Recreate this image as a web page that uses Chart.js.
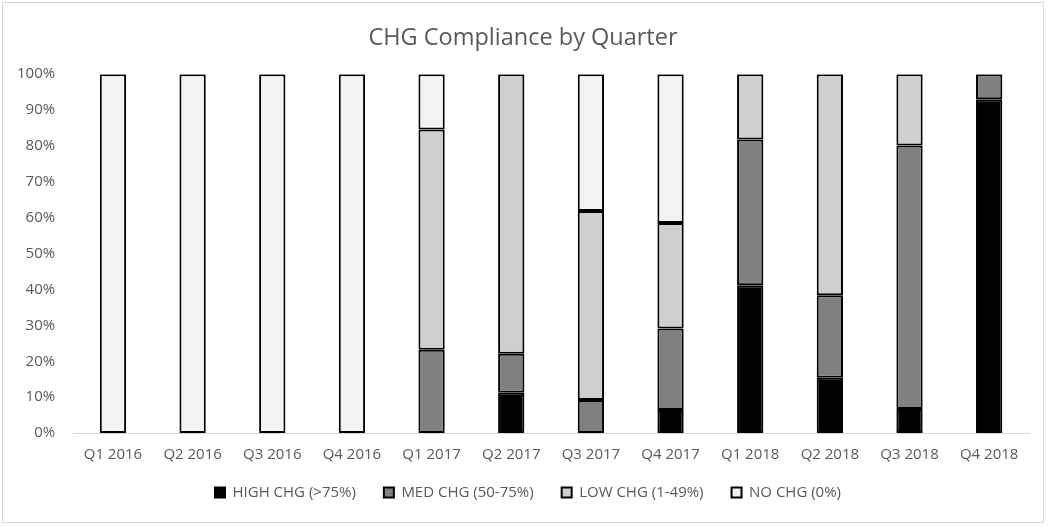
<!DOCTYPE html>
<html>
<head>
<meta charset="utf-8">
<script src="https://cdn.jsdelivr.net/npm/chart.js@4/dist/chart.umd.min.js"></script>
<style>
  html, body { margin: 0; padding: 0; background: #fff; }
  #wrap {
    position: absolute; left: 2px; top: 2px;
    width: 1042px; height: 521px;
    border: 1px solid #d9d9d9; box-sizing: border-box;
  }
</style>
</head>
<body>
<div id="wrap"><canvas id="chgChart"></canvas></div>
<script>
const quarters = ["Q1 2016", "Q2 2016", "Q3 2016", "Q4 2016", "Q1 2017", "Q2 2017",
                  "Q3 2017", "Q4 2017", "Q1 2018", "Q2 2018", "Q3 2018", "Q4 2018"];
// percentage of each quarter, bottom to top
const highChg = [0, 0, 0, 0, 0, 11.2, 0, 6.4, 41.2, 15.4, 6.7, 93];
const medChg  = [0, 0, 0, 0, 23.2, 10.9, 9.2, 22.7, 40.6, 23.0, 73.4, 7];
const lowChg  = [0, 0, 0, 0, 61.4, 77.9, 52.7, 29.4, 18.2, 61.6, 19.9, 0];
const noChg   = [100, 100, 100, 100, 15.4, 0, 38.1, 41.5, 0, 0, 0, 0];
const yTicks  = [0, 10, 20, 30, 40, 50, 60, 70, 80, 90, 100];

// empty segments are skipped so they don't draw a stray border
function seg(arr) {
    return arr.map(v => v === 0 ? null : v);
}

function makeSet(label, data, color) {
    return {
        label: label,
        data: seg(data),
        backgroundColor: color,
        borderColor: '#000',
        borderWidth: 2,
        borderSkipped: false,
        barPercentage: 0.33,
        categoryPercentage: 1.0
    };
}

// move a layout box's drawing without touching the layout
function shiftBox(box, dx, dy) {
    const draw = box.draw;
    box.draw = function (area) {
        const c = this.ctx;
        c.save();
        c.translate(dx, dy);
        draw.call(this, area);
        c.restore();
    };
}

// legend needs wide gaps between items but less room than its padding takes
const boxTweaks = {
    id: 'boxTweaks',
    beforeInit(chart) {
        const lg = chart.legend;
        const fit = lg.fit;
        lg.fit = function () {
            fit.call(this);
            this.height -= 4;
        };
        shiftBox(lg, 10, -12);
        shiftBox(chart.titleBlock, 5, 0);
    }
};

const ctx = document.getElementById('chgChart').getContext('2d');
new Chart(ctx, {
    type: 'bar',
    data: {
        labels: quarters,
        datasets: [
            makeSet('HIGH CHG (>75%)', highChg, '#000000'),
            makeSet('MED CHG (50-75%)', medChg, '#808080'),
            makeSet('LOW CHG (1-49%)', lowChg, '#d0cece'),
            makeSet('NO CHG (0%)', noChg, '#f2f2f2')
        ]
    },
    plugins: [boxTweaks],
    options: {
        responsive: true,
        maintainAspectRatio: false,
        animation: false,
        layout: { padding: { left: 4, right: 14, top: 6, bottom: 4 } },
        plugins: {
            title: {
                display: true,
                text: 'CHG Compliance by Quarter',
                color: '#595959',
                font: { family: 'Open Sans', size: 23.5, weight: 'normal' },
                padding: { top: 15, bottom: 22 }
            },
            legend: {
                position: 'bottom',
                labels: {
                    color: '#595959',
                    font: { family: 'Open Sans', size: 15 },
                    boxWidth: 10,
                    boxHeight: 10,
                    padding: 28
                }
            },
            tooltip: { enabled: false }
        },
        scales: {
            x: {
                stacked: true,
                grid: { display: false },
                border: { color: '#d9d9d9', width: 1 },
                ticks: {
                    color: '#595959',
                    font: { family: 'Open Sans', size: 15 },
                    maxRotation: 0,
                    padding: 5
                }
            },
            y: {
                stacked: true,
                min: 0,
                max: 100,
                afterBuildTicks: axis => { axis.ticks = yTicks.map(v => ({ value: v })); },
                grid: { display: false },
                border: { display: false },
                ticks: {
                    color: '#595959',
                    font: { family: 'Open Sans', size: 15 },
                    padding: 10,
                    callback: v => v + '%'
                }
            }
        }
    }
});
</script>
</body>
</html>
